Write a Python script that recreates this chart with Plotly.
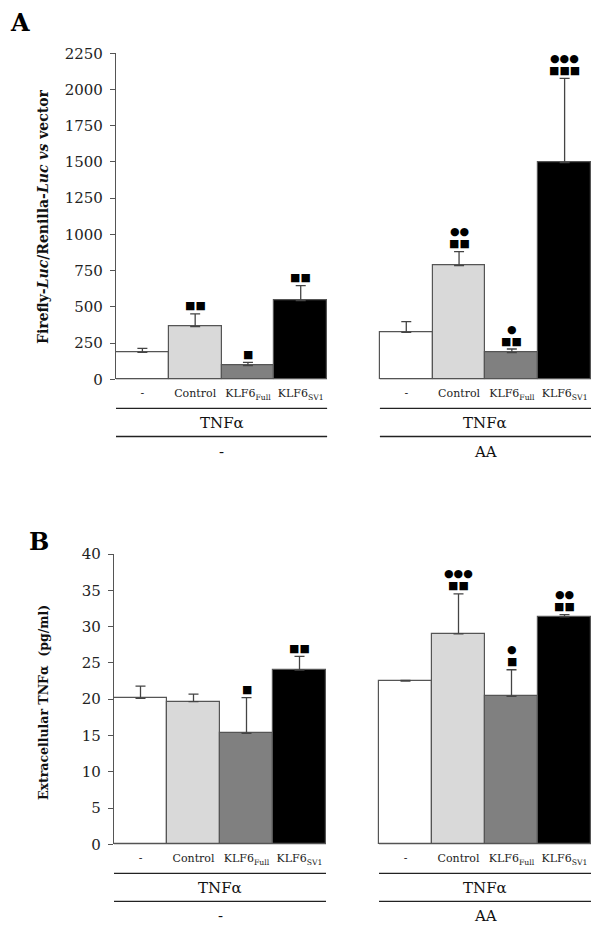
import plotly.graph_objects as go

# treatments and groups (same for both panels)
treatments = ["-", "Control", "KLF6<sub>Full</sub>", "KLF6<sub>SV1</sub>"]
groups = ["-", "AA"]
stimulus = "TNFα"
bar_colors = ["#ffffff", "#d9d9d9", "#808080", "#000000"]

# panel A: luciferase reporter, group "-" then group "AA"
luc_mean = [186, 363, 94, 543, 324, 784, 184, 1495]
luc_sd = [28, 88, 23, 103, 74, 97, 25, 582]
luc_sq = ["", "■■", "■", "■■", "", "■■", "■■", "■■■"]
luc_dot = ["", "", "", "", "", "●●", "●", "●●●"]

# panel B: extracellular TNFa (pg/ml)
tnf_mean = [20.1, 19.65, 15.3, 24.0, 22.5, 29.0, 20.4, 31.35]
tnf_sd = [1.7, 1.05, 4.9, 1.9, 0.1, 5.5, 3.65, 0.3]
tnf_sq = ["", "", "■", "■■", "", "■■", "■", "■■"]
tnf_dot = ["", "", "", "", "", "●●●", "●", "●●"]

# page body has an 8px margin, so the figure is shifted by that much
OFF = 8
W, H = 603 - OFF, 929 - OFF
SERIF = "DejaVu Serif"
AXC = "#555555"

# one empty slot between the two groups
xpos = [g * (len(treatments) + 1) + i for g in range(len(groups)) for i in range(len(treatments))]
colors = bar_colors * len(groups)
ticktext = treatments * len(groups)


def px(p):
    return (p - OFF) / W


def py(p):
    # pixel row of the page -> paper fraction
    return (H - (p - OFF)) / H


fig = go.Figure()

panels = [
    dict(mean=luc_mean, sd=luc_sd, sq=luc_sq, dot=luc_dot, xa="x", ya="y",
         xdom=[px(116), px(591)], ydom=[py(379.3), py(53.3)], yr=[0, 2250], dt=250,
         title="<b>Firefly-<i>Luc</i>/Renilla-<i>Luc</i> <i>vs</i> vector</b>", tsize=14,
         tcy=217, rows=[408.3, 423.3, 436.5, 451.7], letter="A", lxy=(20, 22)),
    dict(mean=tnf_mean, sd=tnf_sd, sq=tnf_sq, dot=tnf_dot, xa="x2", ya="y2",
         xdom=[px(114), px(591)], ydom=[py(844.3), py(554)], yr=[0, 40], dt=5,
         title="<b>Extracellular TNFα\u00a0\u00a0(pg/ml)</b>", tsize=12.5,
         tcy=703, rows=[873.3, 888.3, 901.3, 915.5], letter="B", lxy=(39, 541)),
]

ann = []
shapes = []
for k, p in enumerate(panels):
    fig.add_trace(go.Bar(
        x=xpos, y=p["mean"], width=1, xaxis=p["xa"], yaxis=p["ya"],
        marker=dict(color=colors, line=dict(color=AXC, width=1.2)),
        error_y=dict(type="data", symmetric=False, array=p["sd"],
                     arrayminus=[0] * len(p["sd"]), color="#444444",
                     thickness=1.3, width=5),
        showlegend=False, hoverinfo="y",
    ))
    sfx = "" if k == 0 else "2"
    fig.layout["xaxis" + sfx] = dict(
        domain=p["xdom"], anchor=p["ya"], range=[-0.5, 8.5],
        tickvals=xpos, ticktext=ticktext, ticks="", showline=False,
        showgrid=False, zeroline=False, tickfont=dict(family=SERIF, size=11, color="#222"),
        ticklabelstandoff=6, automargin=False,
    )
    fig.layout["yaxis" + sfx] = dict(
        domain=p["ydom"], anchor=p["xa"], range=p["yr"], dtick=p["dt"],
        showline=True, linecolor=AXC, linewidth=1.2, ticks="outside",
        ticklen=5, tickcolor=AXC, tickwidth=1.2, showgrid=False, zeroline=False,
        tickfont=dict(family=SERIF, size=15, color="#222"), ticklabelstandoff=4,
        automargin=False,
    )
    # baseline under each group, and the two label rows below it
    for g in range(len(groups)):
        x0 = xpos[g * len(treatments)] - 0.5
        x1 = xpos[(g + 1) * len(treatments) - 1] + 0.5
        shapes.append(dict(type="line", xref=p["xa"], yref=p["ya"], x0=x0, x1=x1,
                           y0=0, y1=0, line=dict(color=AXC, width=1.2)))
        for r in (p["rows"][0], p["rows"][2]):
            shapes.append(dict(type="line", xref=p["xa"], yref="paper", x0=x0, x1=x1,
                               y0=py(r), y1=py(r), line=dict(color="#222", width=1.3)))
        xc = (x0 + x1) / 2
        ann.append(dict(x=xc, y=py(p["rows"][1]), xref=p["xa"], yref="paper",
                        text=stimulus, showarrow=False, yanchor="middle",
                        font=dict(family=SERIF, size=15, color="#111")))
        ann.append(dict(x=xc, y=py(p["rows"][3]), xref=p["xa"], yref="paper",
                        text=groups[g], showarrow=False, yanchor="middle",
                        font=dict(family=SERIF, size=15, color="#111")))
    # significance symbols above error bars
    for xi, m, s, sq, dot in zip(xpos, p["mean"], p["sd"], p["sq"], p["dot"]):
        if sq:
            ann.append(dict(x=xi, y=m + s, xref=p["xa"], yref=p["ya"], text=sq,
                            showarrow=False, yanchor="middle", yshift=8,
                            font=dict(family="DejaVu Sans", size=11, color="#000")))
        if dot:
            ann.append(dict(x=xi, y=m + s, xref=p["xa"], yref=p["ya"], text=dot,
                            showarrow=False, yanchor="middle", yshift=20,
                            font=dict(family="DejaVu Sans", size=11, color="#000")))
    # y title and panel letter
    ann.append(dict(x=px(43), y=py(p["tcy"]), xref="paper", yref="paper",
                    text=p["title"], textangle=-90, showarrow=False,
                    xanchor="center", yanchor="middle",
                    font=dict(family=SERIF, size=p["tsize"], color="#111")))
    ann.append(dict(x=px(p["lxy"][0]), y=py(p["lxy"][1]), xref="paper", yref="paper",
                    text="<b>" + p["letter"] + "</b>", showarrow=False,
                    xanchor="center", yanchor="middle",
                    font=dict(family=SERIF, size=24, color="#000")))

fig.update_layout(
    width=W, height=H, margin=dict(l=0, r=0, t=0, b=0),
    paper_bgcolor="white", plot_bgcolor="white",
    annotations=ann, shapes=shapes, bargap=0, showlegend=False,
)

fig.write_html("out.html")
